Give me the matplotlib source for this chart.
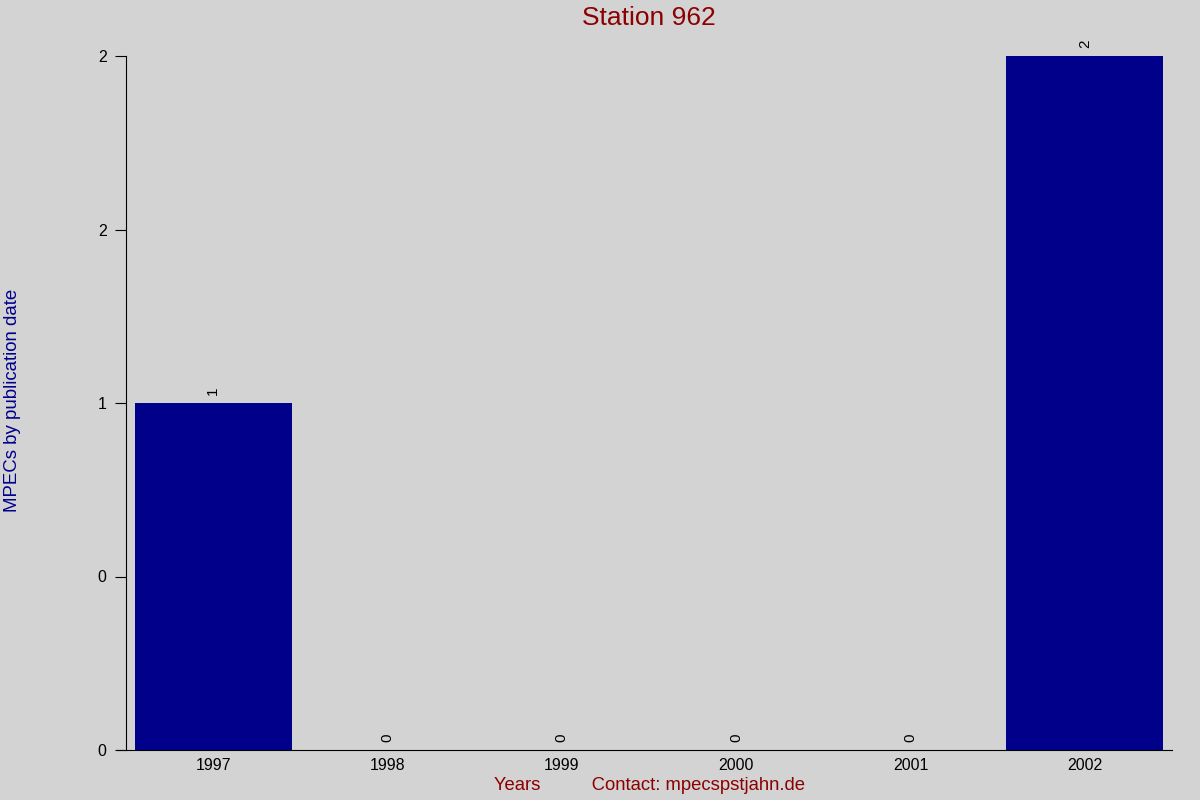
import matplotlib.pyplot as plt

plt.rcParams['font.family'] = ['Liberation Sans', 'DejaVu Sans']

years = ['1997', '1998', '1999', '2000', '2001', '2002']
mpecs = [1, 0, 0, 0, 0, 2]
y_ticks = [0, 0.5, 1, 1.5, 2]

fig = plt.figure(figsize=(12, 8), dpi=100)
fig.patch.set_facecolor('#d3d3d3')
ax = fig.add_axes([0.105, 0.0625, 0.8717, 0.8675])
ax.set_facecolor('#d3d3d3')

x = list(range(len(years)))
ax.bar(x, mpecs, width=0.9, color='#00008b')
for xi, v in zip(x, mpecs):
    ax.text(xi, v + 0.022, str(v), rotation=90, ha='center', va='bottom', fontsize=11)

# tiny dots along the top
ax.plot(x, [max(mpecs)] * len(years), linestyle='none', marker=',', color='black')

ax.set_xlim(-0.5, 5.5)
ax.set_ylim(0, max(mpecs))
ax.set_xticks(x)
ax.set_xticklabels(years, fontsize=11.5)
ax.tick_params(axis='x', length=0, pad=6)
ax.set_yticks(y_ticks)
ax.set_yticklabels(['%.0f' % t for t in y_ticks])
ax.tick_params(axis='y', length=8, labelsize=11.5, pad=6)

for s in ['top', 'right']:
    ax.spines[s].set_visible(False)
ax.spines['bottom'].set_bounds(-0.55, 5.5)

fig.text(0.541, 0.9775, 'Station 962', color='#8b0000', fontsize=19,
         ha='center', va='center')
fig.text(0.541, 0.0175, 'Years          Contact: mpecspstjahn.de', color='#8b0000',
         fontsize=13.3, ha='center', va='center')
fig.text(0.0105, 0.5, 'MPECs by publication date', color='#00008b', fontsize=13.4,
         rotation=90, ha='center', va='center')

plt.savefig('out.png')
